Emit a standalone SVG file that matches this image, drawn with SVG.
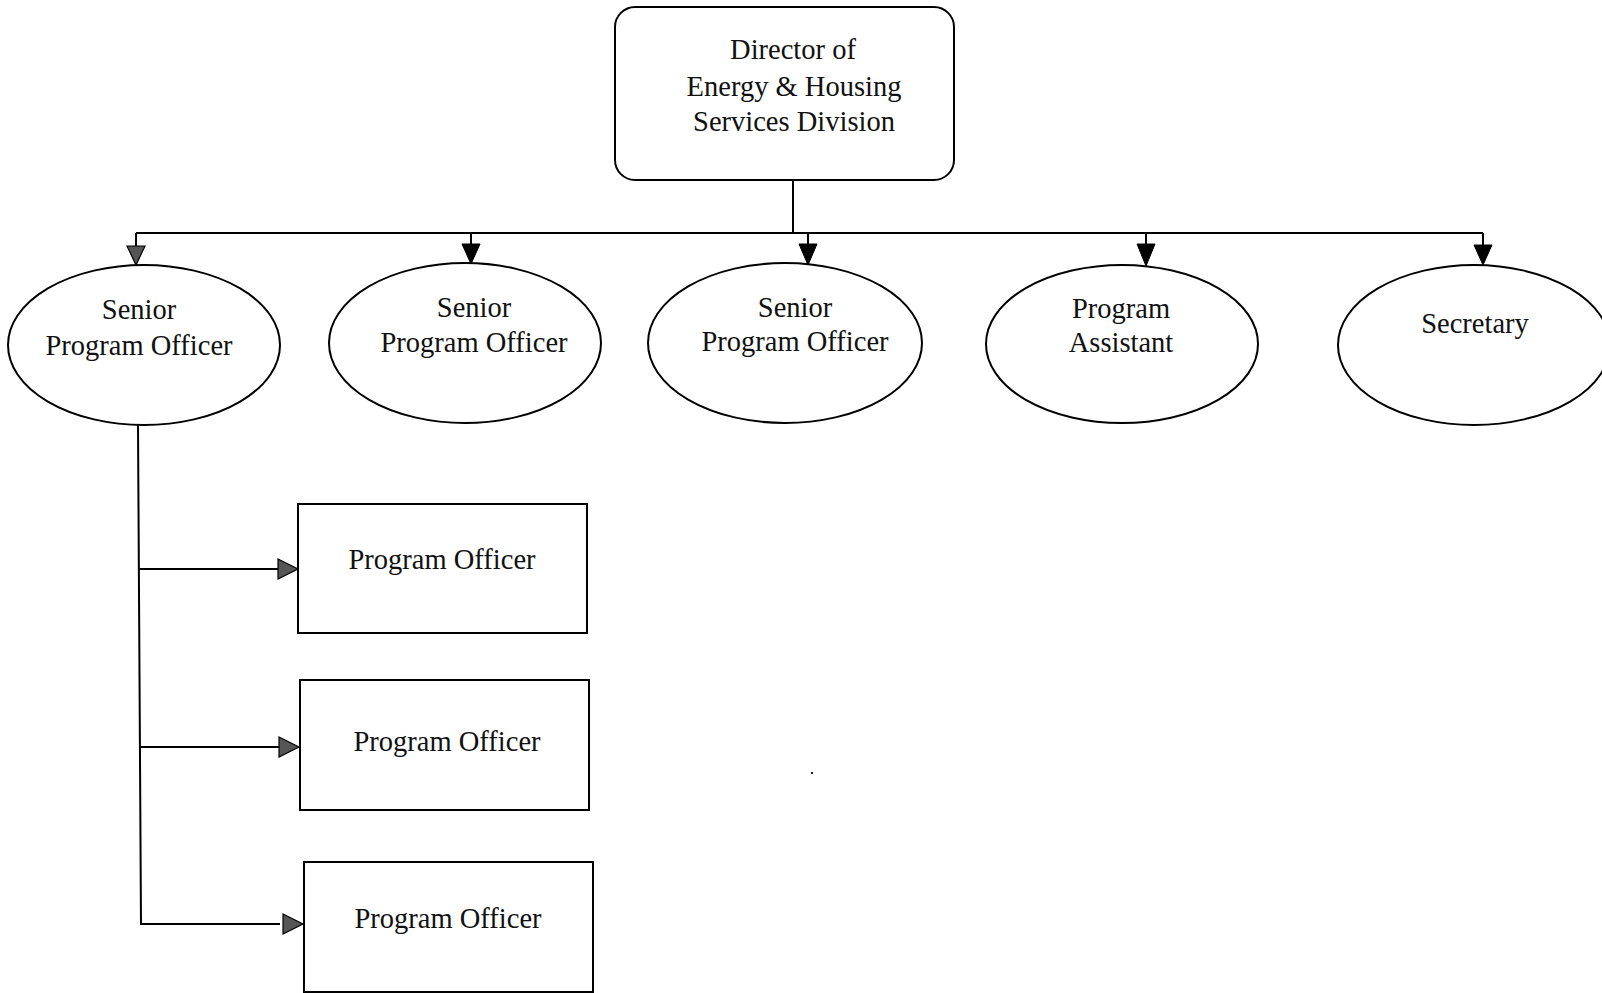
<svg xmlns="http://www.w3.org/2000/svg" width="1602" height="993" viewBox="0 0 1602 993">
  <style>
    .shape { fill: #ffffff; stroke: #000000; stroke-width: 2; }
    .label { font-family: "Liberation Serif", "Times New Roman", serif; font-size: 28.5px; fill: #111111; text-anchor: middle; }
    .wire { fill: none; stroke: #000000; stroke-width: 2; }
    .head-dark { fill: #000000; stroke: #000000; stroke-width: 1; }
    .head-grey { fill: #555555; stroke: #000000; stroke-width: 1.2; }
  </style>
  <rect width="1602" height="993" fill="#ffffff"/>

  <!-- connectors -->
  <g id="connectors">
    <!-- director to the staff row -->
    <path class="wire" d="M793 180 V233"/>
    <path class="wire" d="M136 233 H1483"/>
    <path class="wire" d="M136 233 V246 M471 233 V244 M808 233 V244 M1146 233 V244 M1483 233 V245"/>
    <polygon class="head-grey" points="127,246 145,246 136,265"/>
    <polygon class="head-dark" points="462,244 480,244 471,264"/>
    <polygon class="head-dark" points="799,244 817,244 808,265"/>
    <polygon class="head-dark" points="1137,244 1155,244 1146,266"/>
    <polygon class="head-dark" points="1474,245 1492,245 1483,265"/>
    <!-- senior program officer to program officers -->
    <path class="wire" d="M138 425 L141 924 H280"/>
    <path class="wire" d="M139 569 H278"/>
    <path class="wire" d="M140 747 H279"/>
    <polygon class="head-grey" points="278,559 298,569 278,579"/>
    <polygon class="head-grey" points="279,737 299,747 279,757"/>
    <polygon class="head-grey" points="283,914 303,924 283,934"/>
  </g>

  <g id="director">
    <rect class="shape" x="615" y="7" width="339" height="173" rx="20" ry="20"/>
    <text class="label" x="793" y="59">Director of</text>
    <text class="label" x="794" y="96">Energy &amp; Housing</text>
    <text class="label" x="794" y="131">Services Division</text>
  </g>

  <g id="senior-officer-1">
    <ellipse class="shape" cx="144" cy="345" rx="136" ry="80"/>
    <text class="label" x="139" y="319">Senior</text>
    <text class="label" x="139" y="355">Program Officer</text>
  </g>

  <g id="senior-officer-2">
    <ellipse class="shape" cx="465" cy="343" rx="136" ry="80"/>
    <text class="label" x="474" y="317">Senior</text>
    <text class="label" x="474" y="352">Program Officer</text>
  </g>

  <g id="senior-officer-3">
    <ellipse class="shape" cx="785" cy="343" rx="137" ry="80"/>
    <text class="label" x="795" y="317">Senior</text>
    <text class="label" x="795" y="351">Program Officer</text>
  </g>

  <g id="program-assistant">
    <ellipse class="shape" cx="1122" cy="344" rx="136" ry="79"/>
    <text class="label" x="1121" y="318">Program</text>
    <text class="label" x="1121" y="352">Assistant</text>
  </g>

  <g id="secretary">
    <ellipse class="shape" cx="1474" cy="345" rx="136" ry="80"/>
    <text class="label" x="1475" y="333">Secretary</text>
  </g>

  <g id="program-officer-1">
    <rect class="shape" x="298" y="504" width="289" height="129"/>
    <text class="label" x="442" y="569">Program Officer</text>
  </g>

  <g id="program-officer-2">
    <rect class="shape" x="300" y="680" width="289" height="130"/>
    <text class="label" x="447" y="751">Program Officer</text>
  </g>

  <g id="program-officer-3">
    <rect class="shape" x="304" y="862" width="289" height="130"/>
    <text class="label" x="448" y="928">Program Officer</text>
  </g>

  <rect x="811" y="772" width="2" height="2" fill="#222222"/>
</svg>
